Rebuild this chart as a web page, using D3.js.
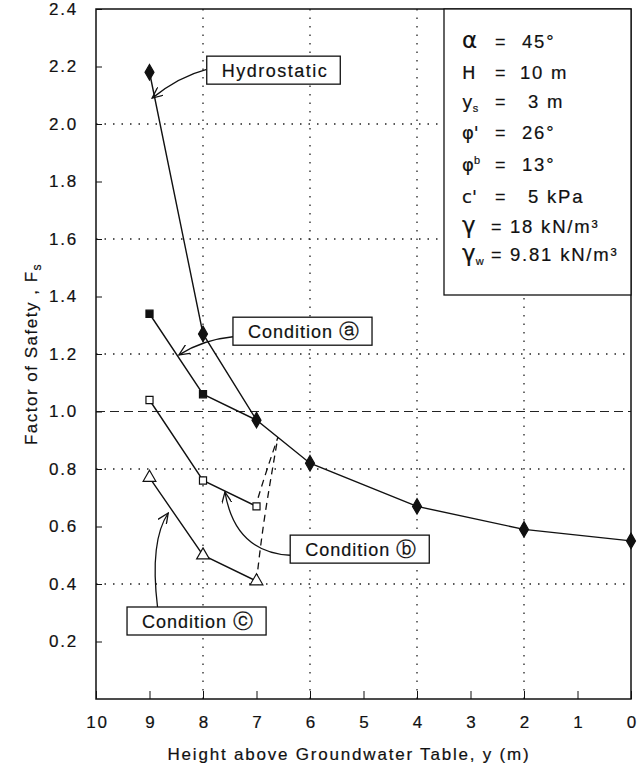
<!DOCTYPE html>
<html>
<head>
<meta charset="utf-8">
<script src="https://cdn.jsdelivr.net/npm/d3@7"></script>
<style>
  body { margin: 0; background: #fff; }
  text { font-family: "Liberation Sans", Arial, sans-serif; fill: #111; stroke: #111; stroke-width: 0.2px; }
</style>
</head>
<body>
<div id="chart"></div>
<script>
// data: height above water table (m) vs factor of safety
var hydroY = [9, 8, 7, 6, 4, 2, 0];
var hydroF = [2.18, 1.27, 0.97, 0.82, 0.67, 0.59, 0.55];
var condAY = [9, 8, 7];
var condAF = [1.34, 1.06, 0.97];
var condBY = [9, 8, 7];
var condBF = [1.04, 0.76, 0.67];
var condCY = [9, 8, 7];
var condCF = [0.77, 0.50, 0.41];
// dashed loci joining condition end points to the hydrostatic curve
var locusCY = [7, 6.85, 6.6];
var locusCF = [0.41, 0.63, 0.91];
var locusBY = [6.97, 6.8, 6.6];
var locusBF = [0.70, 0.80, 0.91];

var xTicks = [10, 9, 8, 7, 6, 5, 4, 3, 2, 1, 0];
var yTicks = [0.2, 0.4, 0.6, 0.8, 1.0, 1.2, 1.4, 1.6, 1.8, 2.0, 2.2, 2.4];
var xGrid = [8, 6, 4, 2];
var yGrid = [0.4, 0.8, 1.2, 1.6, 2.0];

var params = [
  ["α", "", "45°"],
  ["H", "", "10 m"],
  ["y", "s", "3 m"],
  ["φ'", "", "26°"],
  ["φ", "b", "13°"],
  ["c'", "", "5 kPa"],
  ["γ", "", "18 kN/m³"],
  ["γ", "w", "9.81 kN/m³"]
];

var width = 641, height = 768;
var svg = d3.select("#chart").append("svg")
  .attr("width", width).attr("height", height);

var x = d3.scaleLinear().domain([10, 0]).range([96, 631]);
var y = d3.scaleLinear().domain([0, 2.4]).range([699, 9]);

// grid
svg.append("g").selectAll("line").data(xGrid).enter().append("line")
  .attr("x1", d => x(d)).attr("x2", d => x(d))
  .attr("y1", y(0)).attr("y2", y(2.4))
  .attr("stroke", "#222").attr("stroke-width", 1.3)
  .attr("stroke-dasharray", "1.5,7");
svg.append("g").selectAll("line").data(yGrid).enter().append("line")
  .attr("x1", x(10)).attr("x2", x(0))
  .attr("y1", d => y(d)).attr("y2", d => y(d))
  .attr("stroke", "#222").attr("stroke-width", 1.3)
  .attr("stroke-dasharray", "1.5,7");
// FS = 1 line
svg.append("line")
  .attr("x1", x(10)).attr("x2", x(0))
  .attr("y1", y(1)).attr("y2", y(1))
  .attr("stroke", "#222").attr("stroke-width", 1.2)
  .attr("stroke-dasharray", "9,5");

// axes
var xAxis = svg.append("g")
  .attr("transform", "translate(0," + y(0) + ")")
  .call(d3.axisBottom(x).tickValues(xTicks).tickSize(-8).tickPadding(17).tickFormat(d3.format("d")));
var yAxis = svg.append("g")
  .attr("transform", "translate(" + x(10) + ",0)")
  .call(d3.axisLeft(y).tickValues(yTicks).tickSize(-6).tickPadding(18).tickFormat(d3.format(".1f")));
[xAxis, yAxis].forEach(function(a) {
  a.select(".domain").remove();
  a.selectAll("line").attr("stroke", "#111");
  a.selectAll("text").style("font-size", "17px").style("letter-spacing", "1.8px").attr("fill", "#111");
});
xAxis.selectAll("text").attr("dx", "0.9px");
svg.append("rect")
  .attr("x", x(10)).attr("y", y(2.4))
  .attr("width", x(0) - x(10)).attr("height", y(0) - y(2.4))
  .attr("fill", "none").attr("stroke", "#111").attr("stroke-width", 1.5);

svg.append("text")
  .attr("x", 349).attr("y", 760)
  .attr("text-anchor", "middle").style("font-size", "17px").style("letter-spacing", "1.8px")
  .text("Height above Groundwater Table, y (m)");
var yl = svg.append("text")
  .attr("transform", "translate(37," + y(1.2) + ") rotate(-90)")
  .attr("text-anchor", "middle").style("font-size", "17px").style("letter-spacing", "1.5px");
yl.append("tspan").text("Factor of Safety , F");
yl.append("tspan").attr("dy", 4).style("font-size", "12px").text("s");

// series
function pts(ys, fs) { return ys.map((v, i) => ({y: v, f: fs[i]})); }
var line = d3.line().x(d => x(d.y)).y(d => y(d.f));
var curve = d3.line().x(d => x(d.y)).y(d => y(d.f)).curve(d3.curveNatural);

var series = [pts(hydroY, hydroF), pts(condAY, condAF), pts(condBY, condBF), pts(condCY, condCF)];
series.forEach(function(s) {
  svg.append("path").attr("d", line(s))
    .attr("fill", "none").attr("stroke", "#111").attr("stroke-width", 1.4);
});
[pts(locusCY, locusCF), pts(locusBY, locusBF)].forEach(function(s) {
  svg.append("path").attr("d", curve(s))
    .attr("fill", "none").attr("stroke", "#111").attr("stroke-width", 1.3)
    .attr("stroke-dasharray", "7,5");
});

var diamond = d3.symbol().type(d3.symbolDiamond).size(70);
var square = d3.symbol().type(d3.symbolSquare).size(50);
var tri = d3.symbol().type(d3.symbolTriangle).size(70);
function marks(s, sym, fill) {
  svg.append("g").selectAll("path").data(s).enter().append("path")
    .attr("transform", d => "translate(" + x(d.y) + "," + y(d.f) + ")")
    .attr("d", sym).attr("fill", fill).attr("stroke", "#111").attr("stroke-width", 1.2);
}
marks(series[0], diamond, "#111");
marks(series[1].slice(0, 2), square, "#111");
marks(series[2], square, "#fff");
marks(series[3], tri, "#fff");

// annotation boxes with arrows (box corner & arrow ends in data units)
var notes = [
  {label: "Hydrostatic", mark: "", bx: 7.93, bf: 2.236, sx: 7.93, sf: 2.19, cx: 8.45, cf: 2.165, tx: 8.95, tf: 2.09},
  {label: "Condition ", mark: "ⓐ", bx: 7.44, bf: 1.328, sx: 7.44, sf: 1.26, cx: 8.0, cf: 1.25, tx: 8.45, tf: 1.197},
  {label: "Condition ", mark: "ⓑ", bx: 6.37, bf: 0.57, sx: 6.37, sf: 0.50, cx: 7.4, cf: 0.51, tx: 7.59, tf: 0.72},
  {label: "Condition ", mark: "ⓒ", bx: 9.42, bf: 0.32, sx: 8.85, sf: 0.32, cx: 9.0, cf: 0.55, tx: 8.65, tf: 0.647}
];
svg.append("defs").append("marker")
  .attr("id", "arr").attr("viewBox", "0 0 12 10").attr("refX", 11).attr("refY", 5)
  .attr("markerWidth", 12).attr("markerHeight", 10).attr("markerUnits", "userSpaceOnUse")
  .attr("orient", "auto")
  .append("path").attr("d", "M0,0 L11,5 L0,10").attr("fill", "none")
  .attr("stroke", "#111").attr("stroke-width", 1.3);

notes.forEach(function(n) {
  svg.append("path")
    .attr("d", "M" + x(n.sx) + "," + y(n.sf) + " Q" + x(n.cx) + "," + y(n.cf) + " " + x(n.tx) + "," + y(n.tf))
    .attr("fill", "none").attr("stroke", "#111").attr("stroke-width", 1.3)
    .attr("marker-end", "url(#arr)");
  var g = svg.append("g");
  var r = g.append("rect").attr("fill", "#fff").attr("stroke", "#111").attr("stroke-width", 1.3);
  var t = g.append("text").attr("x", x(n.bx) + 15).attr("y", y(n.bf) + 21)
    .style("font-size", "18px").style("letter-spacing", n.mark ? "1.0px" : "1.5px").text(n.label);
  if (n.mark) t.append("tspan").style("font-size", "20px").style("font-family", "DejaVu Sans").text(n.mark);
  var w = t.node().getComputedTextLength();
  r.attr("x", x(n.bx)).attr("y", y(n.bf)).attr("width", w + 27).attr("height", 28);
});

// parameter box
svg.append("rect").attr("x", 444).attr("y", y(2.4)).attr("width", x(0) - 444).attr("height", 286)
  .attr("fill", "#fff").attr("stroke", "#111").attr("stroke-width", 1.3);
var rowY = [48, 79, 108, 139, 171, 203, 233, 261];
var eqX = [495, 495, 495, 495, 495, 495, 491, 491];
var valX = [522, 520, 528, 522, 522, 528, 510, 510];
params.forEach(function(p, i) {
  var t = svg.append("text").attr("x", 462).attr("y", rowY[i]).style("font-size", "18px");
  var big = (p[0] === "α" || p[0] === "γ") ? "23px" : "18px";
  t.append("tspan").style("font-size", big).style("font-family", "DejaVu Sans").text(p[0]);
  if (p[1]) {
    var up = p[1] === "b";
    t.append("tspan").attr("dy", up ? -7 : 4).style("font-size", "11px").text(p[1]);
  }
  svg.append("text").attr("x", eqX[i]).attr("y", rowY[i]).style("font-size", "18px").text("=");
  svg.append("text").attr("x", valX[i]).attr("y", rowY[i])
    .style("font-size", "18.5px").style("letter-spacing", "1.8px").text(p[2]);
});
</script>
</body>
</html>
